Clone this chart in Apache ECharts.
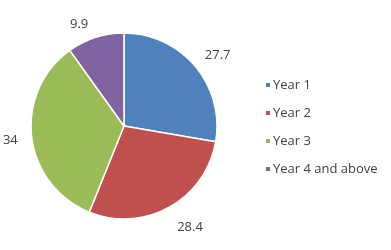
<!DOCTYPE html>
<html><head><meta charset="utf-8">
<script src="https://cdn.jsdelivr.net/npm/echarts@6/dist/echarts.min.js"></script>
<style>html,body{margin:0;padding:0;background:#fff}#c{width:391px;height:250px}</style>
</head><body><div id="c"></div>
<script>
const categories = ["Year 1", "Year 2", "Year 3", "Year 4 and above"];
const values = [27.7, 28.4, 34, 9.9];
const colors = ["#4F81BD", "#C0504D", "#9BBB59", "#8064A2"];
// small nudges so labels sit where the reference places them
const labelNudge = [[-6, -2], [-4, 8], [5, 2], [2, 0]];

const chart = echarts.init(document.getElementById('c'), null, {renderer: 'canvas'});
chart.setOption({
  animation: false,
  color: colors,
  legend: {
    orient: 'vertical',
    left: 259,
    top: 73,
    icon: 'rect',
    itemWidth: 6,
    itemHeight: 6,
    itemGap: 14,
    textStyle: {fontFamily: 'Open Sans', fontSize: 13, color: '#404040', lineHeight: 14, padding: [0,0,0,-3]},
    data: categories
  },
  series: [{
    type: 'pie',
    center: [124, 126],
    radius: 93,
    startAngle: 90,
    clockwise: true,
    avoidLabelOverlap: false,
    itemStyle: {borderColor: '#fff', borderWidth: 1.5},
    label: {
      show: true,
      position: 'outside',
      formatter: p => String(p.value),
      fontFamily: 'Open Sans',
      fontSize: 13,
      color: '#404040'
    },
    labelLine: {show: false, length: 14, length2: 0},
    labelLayout: p => ({dx: labelNudge[p.dataIndex][0], dy: labelNudge[p.dataIndex][1]}),
    data: categories.map((c, i) => ({name: c, value: values[i]}))
  }]
});
</script></body></html>
